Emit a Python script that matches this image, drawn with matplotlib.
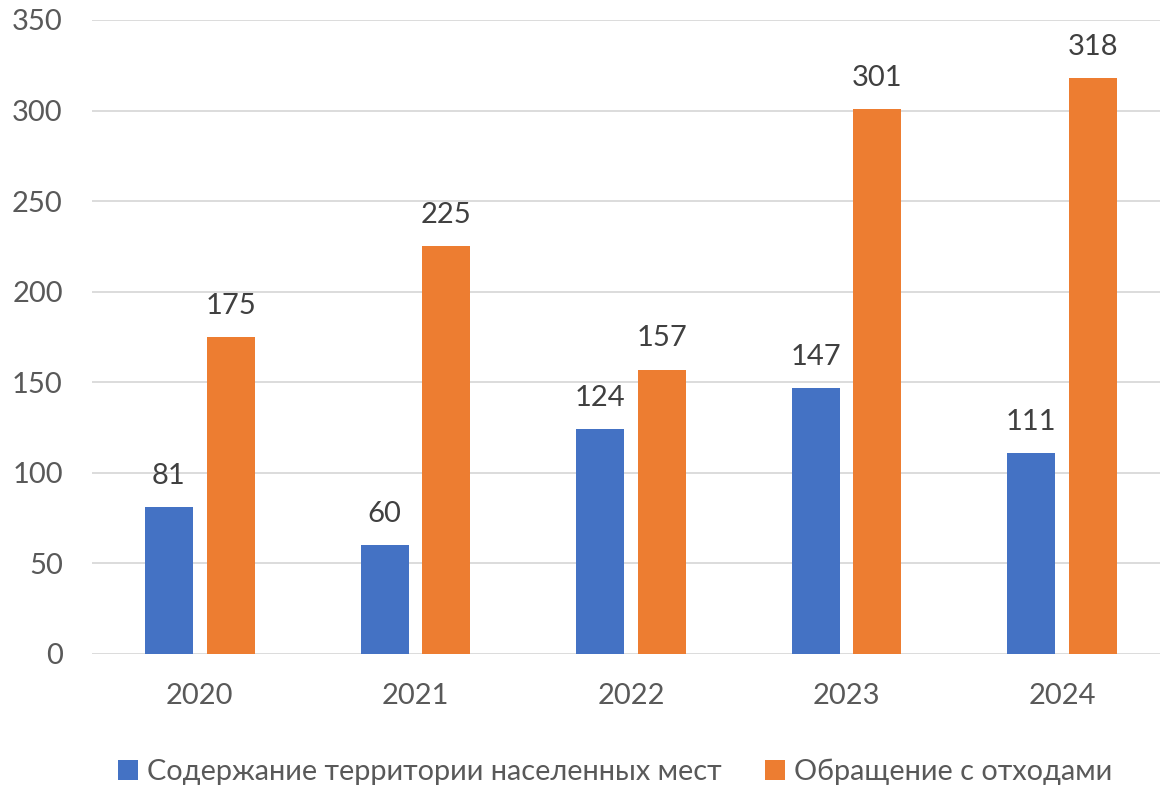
import matplotlib
matplotlib.use("Agg")
import matplotlib.pyplot as plt
import numpy as np

years = ["2020", "2021", "2022", "2023", "2024"]
series1_name = "Содержание территории населенных мест"
series2_name = "Обращение с отходами"
series1 = [81, 60, 124, 147, 111]
series2 = [175, 225, 157, 301, 318]
yticks = [0, 50, 100, 150, 200, 250, 300, 350]

plt.rcParams['font.family'] = ['Lato', 'DejaVu Sans']

W, H = 1160, 786
fig = plt.figure(figsize=(W/100, H/100), dpi=100)
left, right, bottom, top = 92, 1160, 654, 20
ax = fig.add_axes([left/W, 1 - bottom/H, (right-left)/W, (bottom-top)/H])

x = np.arange(len(years))
bw = 0.223
off = 0.143
blue = "#4472C4"
orange = "#ED7D31"
b1 = ax.bar(x - off, series1, bw, color=blue, label=series1_name, zorder=3)
b2 = ax.bar(x + off, series2, bw, color=orange, label=series2_name, zorder=3)

for bars, vals in ((b1, series1), (b2, series2)):
    for r, v in zip(bars, vals):
        ax.text(r.get_x() + r.get_width()/2, v + 10, str(v), ha='center', va='bottom',
                fontsize=21, color="#404040")

ax.set_ylim(0, 350)
ax.set_xlim(-0.5, 4.5 - 10/215.5)
ax.set_yticks(yticks)
ax.set_xticks(x)
ax.set_xticklabels(years)
ax.yaxis.grid(True, color="#D9D9D9", linewidth=1.3, zorder=0)
ax.set_axisbelow(True)
for s in ax.spines.values():
    s.set_visible(False)
ax.tick_params(axis='both', length=0, labelsize=21, colors="#595959")
ax.tick_params(axis='y', pad=21)
ax.tick_params(axis='x', pad=21)

leg = fig.legend(handles=[b1, b2], loc='center', bbox_to_anchor=(615/W, 1 - 772/H), ncol=2,
                 frameon=False, fontsize=20.8, handlelength=0.7, handleheight=0.7,
                 handletextpad=0.3, columnspacing=1.5)
for t in leg.get_texts():
    t.set_color("#595959")

fig.savefig("out.png", dpi=100)
